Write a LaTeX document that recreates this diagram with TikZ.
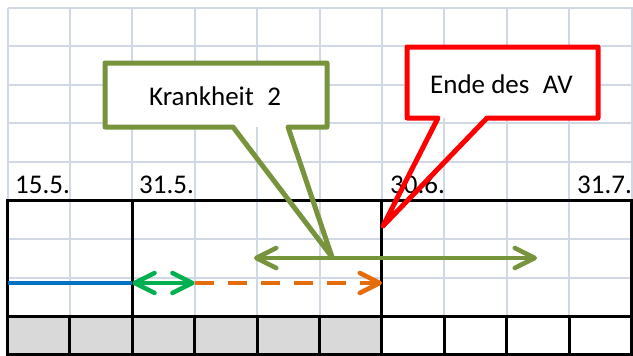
\documentclass[tikz,border=0pt]{standalone}
\usepackage{fontspec}
\setmainfont{Carlito}
\usetikzlibrary{arrows.meta}
\definecolor{gridc}{HTML}{D0D7E5}
\definecolor{olivec}{HTML}{77933C}
\definecolor{brightg}{HTML}{00B050}
\definecolor{orangec}{HTML}{E46C0A}
\definecolor{bluec}{HTML}{0070C0}
\definecolor{cellgray}{HTML}{D9D9D9}
\tikzset{
  gridline/.style={gridc, line width=2pt},
  frame/.style={draw=black, line width=3pt},
  lbl/.style={font=\fontsize{27}{32}\selectfont, inner sep=0pt, anchor=base west},
  barb/.style={-{Straight Barb[length=20pt,width=20pt,round]}},
  dbarb/.style={{Straight Barb[length=20pt,width=20pt,round]}-{Straight Barb[length=20pt,width=20pt,round]}},
  callout/.style={line width=5pt, line join=round},
}
\begin{document}
\begin{tikzpicture}[x=1pt,y=-1pt]
\useasboundingbox (0,0) rectangle (633,356);
% light grid
\foreach \i in {0,...,10} {
  \draw[gridline] ({7.5+62.4*\i},7.5) -- ({7.5+62.4*\i},355);
}
\foreach \j in {0,...,9} {
  \draw[gridline] (7.5,{7.5+38.6*\j}) -- (633,{7.5+38.6*\j});
}
% bottom row cells
\foreach \i in {0,...,9} {
  \ifnum\i<6
    \filldraw[fill=cellgray, frame] ({7.5+62.4*\i},316.3) rectangle ({7.5+62.4*(\i+1)},354.9);
  \else
    \draw[frame] ({7.5+62.4*\i},316.3) rectangle ({7.5+62.4*(\i+1)},354.9);
  \fi
}
% black frame
\draw[frame] (7.5,200.5) rectangle (631.5,354.9);
\draw[frame] (132.3,200.5) -- (132.3,316.3);
\draw[frame] (381.9,200.5) -- (381.9,316.3);
% date labels
\node[lbl] (d1) at (15,193) {15.5.};
\node[lbl] (d2) at (139,193) {31.5.};
\node[lbl] (d3) at (390,193) {30.6.};
\node[lbl] (d4) at (577,193) {31.7.};
% timeline coordinates
\coordinate (b0) at (7.5,283);
\coordinate (b1) at (132.3,283);
\coordinate (g1) at (194.7,283);
\coordinate (o1) at (382,283);
\coordinate (k0) at (254,258);
\coordinate (k1) at (537,258);
% lines and arrows
\draw[bluec, line width=4.5pt] (b0) -- (b1);
\draw[orangec, line width=4.5pt, dash pattern=on 19pt off 14pt, barb] (g1) -- (o1);
\draw[brightg, line width=4.5pt, dbarb] (b1) -- (g1);
\draw[olivec, line width=4.5pt, dbarb] (k0) -- (k1);
% green callout
\coordinate (ka) at (105,63);
\coordinate (kb) at (327,63);
\coordinate (kc) at (327,127);
\coordinate (kd) at (288,127);
\coordinate (kt) at (332,257);
\coordinate (ke) at (233,127);
\coordinate (kf) at (105,127);
\fill[white] (ka) rectangle (kc);
\draw[olivec, callout] (ka) -- (kb) -- (kc) -- (kd) -- (kt) -- (ke) -- (kf) -- cycle;
\node[lbl] (ktext) at (149,105) {Krankheit\enspace 2};
% red callout
\coordinate (ra) at (407,47);
\coordinate (rb) at (598,47);
\coordinate (rc) at (598,118);
\coordinate (rd) at (487,118);
\coordinate (rt) at (383,226);
\coordinate (re) at (438,118);
\coordinate (rf) at (407,118);
\fill[white] (ra) rectangle (rc);
\draw[red, callout] (ra) -- (rb) -- (rc) -- (rd) -- (rt) -- (re) -- (rf) -- cycle;
\node[lbl] (rtext) at (430,93) {Ende des\enspace AV};
\end{tikzpicture}
\end{document}
